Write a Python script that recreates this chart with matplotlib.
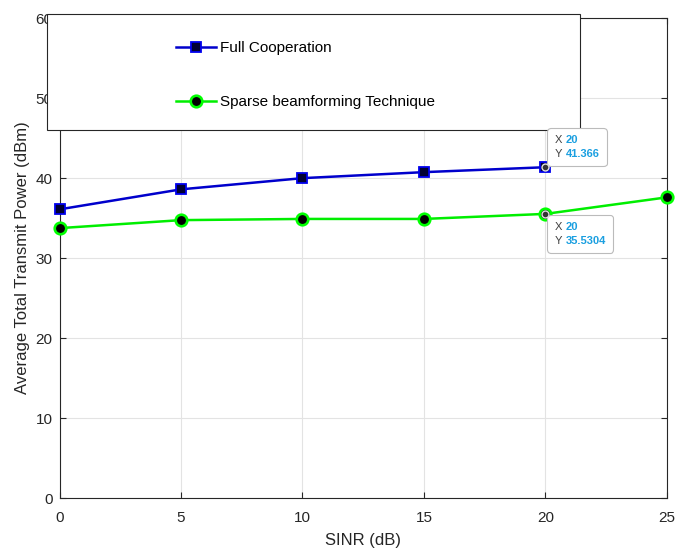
import matplotlib
matplotlib.use("Agg")
import matplotlib.pyplot as plt
from matplotlib.patches import Rectangle
from matplotlib.offsetbox import TextArea, HPacker, VPacker, AnnotationBbox

plt.rcParams['font.family'] = ['Liberation Sans', 'DejaVu Sans']

sinr_full = [0, 5, 10, 15, 20]
power_full = [36.1, 38.6, 40.0, 40.75, 41.366]
sinr_sparse = [0, 5, 10, 15, 20, 25]
power_sparse = [33.75, 34.75, 34.9, 34.9, 35.5304, 37.6]
labels = ["Full Cooperation", "Sparse beamforming Technique"]
tips = [(20, 41.366, "41.366"), (20, 35.5304, "35.5304")]

fig = plt.figure(figsize=(6.77, 5.52), dpi=100)
ax = fig.add_axes([0.0880, 0.0978, 0.8970, 0.8692])

ax.plot(sinr_full, power_full, color='#0000CC', lw=1.8, marker='s', ms=7,
        mfc='#000033', mec='#0000EE', mew=1.3, label=labels[0], zorder=3,
        clip_on=False)
ax.plot(sinr_sparse, power_sparse, color='#00EE00', lw=1.8, marker='o', ms=8.3,
        mfc='black', mec='#00FF00', mew=1.9, label=labels[1], zorder=3,
        clip_on=False)

ax.set_xlim(0, 25)
ax.set_ylim(0, 60)
ax.set_xticks(range(0, 26, 5))
ax.set_yticks(range(0, 61, 10))
ax.grid(True, color='#e3e3e3', lw=0.8)
ax.set_axisbelow(True)
ax.tick_params(direction='in', top=True, right=True, labelsize=11,
               colors='#262626', length=4)
ax.tick_params(axis='x', pad=9)
ax.tick_params(axis='y', pad=5)
for s in ax.spines.values():
    s.set_color('#262626')
    s.set_linewidth(0.8)
ax.set_xlabel("SINR (dB)", fontsize=12, color='#262626', labelpad=6)
ax.set_ylabel("Average Total Transmit Power (dBm)", fontsize=12,
              color='#262626', labelpad=4)

# legend box sits over the top of the axes
box = Rectangle((0.0694, 0.7645), 0.787, 0.210, transform=fig.transFigure,
                facecolor='white', edgecolor='#262626', lw=0.8,
                clip_on=False, zorder=5)
ax.add_artist(box)
leg = ax.legend(loc='upper left', bbox_to_anchor=(176 / 677, 1 - 41 / 552),
                bbox_transform=fig.transFigure, frameon=False, fontsize=11,
                handlelength=2.6, handletextpad=0.25, labelspacing=2.65,
                borderpad=0, borderaxespad=0)
leg.set_zorder(6)

# data tips at SINR = 20 dB
offsets = [((2, 1), (0, 0)), ((2, -1), (0, 1))]
for (tx, ty, tval), (off, align) in zip(tips, offsets):
    rows = []
    for name, val in (("X", str(tx)), ("Y", tval)):
        rows.append(HPacker(children=[
            TextArea(name, textprops=dict(color='#404040', fontsize=8)),
            TextArea(val, textprops=dict(color='#1a9fe0', fontsize=8,
                                         fontweight='bold'))],
            sep=3, pad=0))
    content = VPacker(children=rows, sep=3, pad=5, align='left')
    ab = AnnotationBbox(content, (tx, ty), xybox=(off[0] * 0.72, off[1] * 0.72),
                        xycoords='data', boxcoords='offset points',
                        box_alignment=align, pad=0, zorder=8,
                        bboxprops=dict(boxstyle='round,pad=0,rounding_size=0.25',
                                       facecolor='white', edgecolor='#bbbbbb',
                                       lw=0.8))
    ax.add_artist(ab)
    ax.plot(tx, ty, 'o', ms=5, mfc='#333333', mec='#e0e0e0', mew=1.0, zorder=9)

fig.savefig("out.png", dpi=100)
